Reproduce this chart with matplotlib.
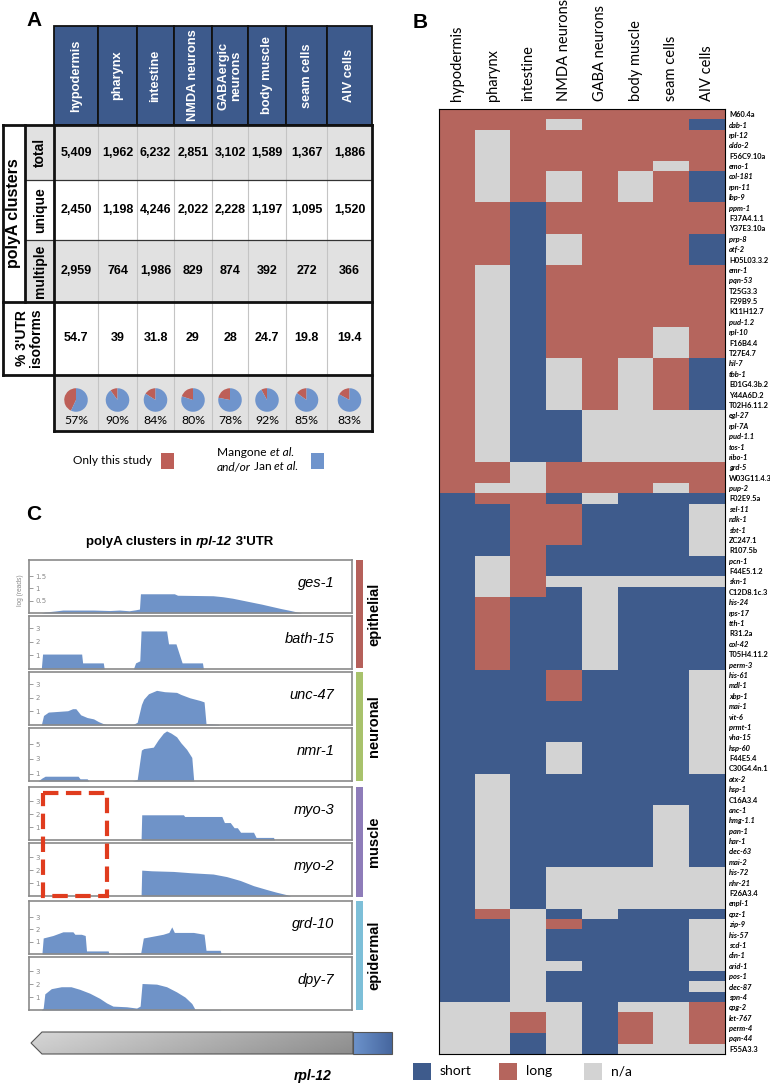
import matplotlib
matplotlib.use("Agg")
import matplotlib.pyplot as plt
import numpy as np
from matplotlib.colors import ListedColormap, LinearSegmentedColormap
from matplotlib.patches import Rectangle, Polygon

W, H = 770, 1087
CAL = "Lato"
HEL = "Liberation Sans"

# ---------------- panel A data
tissues_a = ["hypodermis", "pharynx", "intestine", "NMDA neurons", "GABAergic\nneurons",
             "body muscle", "seam cells", "AIV cells"]
total = [5409, 1962, 6232, 2851, 3102, 1589, 1367, 1886]
unique = [2450, 1198, 4246, 2022, 2228, 1197, 1095, 1520]
multiple = [2959, 764, 1986, 829, 874, 392, 272, 366]
utr_isoforms = [54.7, 39, 31.8, 29, 28, 24.7, 19.8, 19.4]
known_pct = [57, 90, 84, 80, 78, 92, 85, 83]

# ---------------- panel B data (S = short, L = long, N = n/a)
tissues_b = ["hypodermis", "pharynx", "intestine", "NMDA neurons", "GABA neurons",
             "body muscle", "seam cells", "AIV cells"]
genes = ["M60.4a", "dab-1", "rpl-12", "aldo-2", "F56C9.10a", "emo-1", "col-181", "rpn-11",
         "lbp-9", "ppm-1", "F37A4.1.1", "Y37E3.10a", "prp-8", "atf-2", "H05L03.3.2", "emr-1",
         "pqn-53", "T25G3.3", "F29B9.5", "K11H12.7", "pud-1.2", "rpl-10", "F16B4.4", "T27E4.7",
         "hil-7", "tbb-1", "E01G4.3b.2", "Y44A6D.2", "T02H6.11.2", "egl-27", "rpl-7A", "pud-1.1",
         "tos-1", "ribo-1", "grd-5", "W03G11.4.3", "pup-2", "F02E9.5a", "sel-11", "ndk-1",
         "sbt-1", "ZC247.1", "R107.5b", "pcn-1", "F44E5.1.2", "skn-1", "C12D8.1c.3", "his-24",
         "rps-17", "tth-1", "R31.2a", "col-42", "T05H4.11.2", "perm-3", "his-61", "mdl-1",
         "xbp-1", "mai-1", "vit-6", "prmt-1", "vha-15", "hsp-60", "F44E5.4", "C30G4.4n.1",
         "atx-2", "hsp-1", "C16A3.4", "anc-1", "hmg-1.1", "pan-1", "har-1", "clec-63", "mai-2",
         "his-72", "nhr-21", "F26A3.4", "enpl-1", "cpz-1", "zip-9", "his-57", "scd-1", "din-1",
         "arid-1", "pos-1", "clec-87", "spn-4", "cpg-2", "let-767", "perm-4", "pqn-44", "F55A3.3"]
calls = ["LLLLLLLL", "LLLNLLLS", "LNLLLLLL", "LNLLLLLL", "LNLLLLLL", "LNLLLLNL", "LNLNLNLS",
         "LNLNLNLS", "LNLNLNLS", "LLSLLLLL", "LLSLLLLL", "LLSLLLLL", "LLSNLLLS", "LLSNLLLS",
         "LLSNLLLS", "LNSLLLLL", "LNSLLLLL", "LNSLLLLL", "LNSLLLLL", "LNSLLLLL", "LNSLLLLL",
         "LNSLLLNL", "LNSLLLNL", "LNSLLLNL", "LNSNLNLS", "LNSNLNLS", "LNSNLNLS", "LNSNLNLS",
         "LNSNLNLS", "LNSSNNNN", "LNSSNNNN", "LNSSNNNN", "LNSSNNNN", "LNSSNNNN", "LLNLLLLL",
         "LLNLLLLL", "LNNLLLNL", "SLLSNSSS", "SSLLSSSN", "SSLLSSSN", "SSLLSSSN", "SSLLSSSN",
         "SSLSSSSN", "SNLSSSSS", "SNLSSSSS", "SNLNNNNN", "SNLSNSSS", "SLSSNSSS", "SLSSNSSS",
         "SLSSNSSS", "SLSSNSSS", "SLSSNSSS", "SLSSNSSS", "SLSSNSSS", "SSSLSSSN", "SSSLSSSN",
         "SSSLSSSN", "SSSSSSSN", "SSSSSSSN", "SSSSSSSN", "SSSSSSSN", "SSSNSSSN", "SSSNSSSN",
         "SSSNSSSN", "SNSSSSSS", "SNSSSSSS", "SNSSSSSS", "SNSSSSNS", "SNSSSSNS", "SNSSSSNS",
         "SNSSSSNS", "SNSSSSNS", "SNSSSSNS", "SNSNNNNN", "SNSNNNNN", "SNSNNNNN", "SNSNNNNN",
         "SLNSNSSS", "SSNLSSSN", "SSNSSSSN", "SSNSSSSN", "SSNSSSSN", "SSNNSSSN", "SSNSSSSS",
         "SSNSSSSN", "SSNSSSSS", "NNNNSNNL", "NNLNSLNL", "NNLNSLNL", "NNSNSLNL", "NNSNSNNN"]

# ---------------- panel C data (x in % of the 3'UTR window, y in log reads)
tracks = ["ges-1", "bath-15", "unc-47", "nmr-1", "myo-3", "myo-2", "grd-10", "dpy-7"]
ges1_x = [3.8, 5, 8, 10.5, 20, 25, 28, 31, 33, 34.2, 34.5, 45, 46, 57, 60, 63, 66, 69, 72, 75, 78, 81, 83, 84.5]
ges1_y = [0, 0.04, 0.08, 0.12, 0.12, 0.1, 0.12, 0.09, 0.13, 0.16, 0.78, 0.78, 0.72, 0.7, 0.66, 0.6,
          0.52, 0.44, 0.36, 0.27, 0.18, 0.1, 0.04, 0]
bath15_x = [3.8, 4.2, 16.3, 16.6, 23.0, 23.3, 32.3, 33.0, 34.3, 34.7, 42.6, 43.2, 45.5, 47.4, 53.7, 54.0]
bath15_y = [0, 1.1, 1.1, 0.45, 0.45, 0, 0, 0.45, 0.6, 2.8, 2.8, 1.85, 1.85, 0.45, 0.45, 0]
unc47_x = [3.8, 4.5, 6, 9, 12, 13.5, 14.5, 16, 18, 20, 21.5, 23, 24, 32.3, 33.5, 34.8, 35.5, 37, 39.5,
           42, 45.7, 47, 49.8, 53, 54.2, 54.8, 58.6, 59]
unc47_y = [0, 0.7, 0.95, 1.0, 1.05, 1.2, 1.2, 0.75, 0.55, 0.45, 0.25, 0.1, 0.05, 0.05, 0.2, 1.5, 1.9,
           2.3, 2.55, 2.45, 2.4, 2.25, 2.0, 1.8, 1.7, 0.1, 0.05, 0]
nmr1_x = [2.8, 4.0, 5.0, 15.2, 15.8, 18.0, 18.5, 32.0, 33.5, 34.8, 35.5, 38.5, 40, 41.6, 42.6, 44,
          45.7, 47, 48.8, 50.4, 51.0]
nmr1_y = [0, 0.4, 0.65, 0.65, 0.3, 0.3, 0, 0, 0.2, 4.2, 4.4, 4.6, 5.6, 6.5, 6.8, 6.5, 6.0, 5.2, 4.3, 3.2, 0]
myo3_x = [34.7, 34.9, 47.8, 48.2, 59.7, 60.5, 62.3, 63.5, 64.5, 65.5, 69.5, 70.3, 75.7, 76]
myo3_y = [0, 1.95, 1.95, 1.82, 1.82, 1.35, 1.35, 0.95, 0.95, 0.6, 0.6, 0.2, 0.2, 0]
myo2_x = [34.7, 34.9, 38, 44.7, 50, 57, 61.2, 65.4, 69.5, 73.6, 76.5, 79.8, 81]
myo2_y = [0, 2.0, 1.95, 1.9, 1.8, 1.7, 1.5, 1.2, 0.8, 0.5, 0.3, 0.1, 0]
grd10_x = [4.0, 4.4, 7.4, 10.5, 13.6, 14.2, 16.2, 17.4, 17.8, 24.5, 24.8, 34.6, 35.4, 39.5, 41.5,
           43.3, 44.2, 45.0, 50.9, 54.2, 54.8, 59.2, 59.5]
grd10_y = [0, 1.3, 1.5, 1.8, 1.8, 1.6, 1.6, 1.5, 0.25, 0.25, 0, 0.1, 1.3, 1.5, 1.6, 1.75, 2.2, 1.75,
           1.75, 1.6, 0.3, 0.3, 0]
dpy7_x = [3.8, 4.4, 4.9, 6.9, 10, 13, 15.7, 18.8, 21.9, 24, 26, 30.2, 33.3, 34.4, 35.0, 39.5, 42.6,
          45.7, 48.3, 50.4, 51.4, 59.2, 59.5]
dpy7_y = [0, 0.15, 1.25, 1.65, 1.8, 1.8, 1.6, 1.3, 0.9, 0.55, 0.3, 0.25, 0.15, 0.3, 2.05, 2.0, 1.8,
          1.4, 1.0, 0.5, 0.05, 0.03, 0]
track_x = [ges1_x, bath15_x, unc47_x, nmr1_x, myo3_x, myo2_x, grd10_x, dpy7_x]
track_y = [ges1_y, bath15_y, unc47_y, nmr1_y, myo3_y, myo2_y, grd10_y, dpy7_y]
track_ticks = [[0.5, 1, 1.5], [1, 2, 3], [1, 2, 3], [1, 3, 5], [1, 2, 3], [1, 2, 3], [1, 2, 3], [1, 2, 3]]
track_ymax = [2.15, 3.9, 3.9, 7.2, 4.1, 4.1, 4.3, 4.1]
groups = ["epithelial", "neuronal", "muscle", "epidermal"]

# colours
RED = "#b5655d"
BLUE = "#3e5b8c"
GREY = "#d3d3d3"
PIE_RED = "#bd5f58"
PIE_BLUE = "#6f94cc"
TRACK = "#6f93c8"
TAB_GREY = "#e1e1e1"
group_colors = ["#b5605a", "#a8c26c", "#8e7cb9", "#7dbfd8"]


def px_rect(x0, y0, x1, y1):
    return [x0 / W, 1 - y1 / H, (x1 - x0) / W, (y1 - y0) / H]


def pixel_axes(zorder=0):
    a = fig.add_axes([0, 0, 1, 1], zorder=zorder)
    a.set_xlim(0, W)
    a.set_ylim(H, 0)
    a.axis("off")
    a.patch.set_alpha(0)
    return a


fig = plt.figure(figsize=(W / 100, H / 100), dpi=100)
bg = pixel_axes()
renderer = fig.canvas.get_renderer()


def draw_runs(x, y, runs, size, weight="normal", family=CAL):
    for txt, style in runs:
        t = bg.text(x, y, txt, fontsize=size, fontstyle=style, fontweight=weight, family=family,
                    va="center", ha="left")
        x += t.get_window_extent(renderer=renderer).width


# ---------------- panel A: table
for lab, (x, y) in zip("ABC", [(34, 20), (420, 22), (34, 515)]):
    bg.text(x, y, lab, fontsize=15, fontweight="bold", family=HEL, ha="center", va="center")

col_x = [54, 98, 137, 174, 212, 248, 286, 327, 372]
centers = [(a + b) / 2 for a, b in zip(col_x[:-1], col_x[1:])]
hdr_top, hdr_bot = 26, 125
row_y = [125, 180, 240, 302, 375, 431]

for i, name in enumerate(tissues_a):
    bg.add_patch(Rectangle((col_x[i], hdr_top), col_x[i + 1] - col_x[i], hdr_bot - hdr_top,
                           facecolor="#3d5a8c", edgecolor="#111111", lw=1.3))
    bg.text(centers[i], (hdr_top + hdr_bot) / 2, name, rotation=90, color="white", fontsize=9.2,
            fontweight="bold", family=HEL, ha="center", va="center", linespacing=1.0)

# row backgrounds
for (y0, y1), shade in zip(zip(row_y[:-1], row_y[1:]), [TAB_GREY, "white", TAB_GREY, "white", TAB_GREY]):
    x0 = 54 if y0 == 375 else (3 if y0 == 302 else 25)
    bg.add_patch(Rectangle((x0, y0), 372 - x0, y1 - y0, facecolor=shade, edgecolor="none"))

for x in col_x[1:-1]:
    bg.plot([x, x], [125, 431], color="#c4c4c4", lw=0.8)
for y in [180, 240]:
    bg.plot([25, 372], [y, y], color="#333333", lw=0.9)
thick = dict(color="#111111", lw=2.0, solid_capstyle="projecting")
for y in [125, 302, 375]:
    bg.plot([3, 372], [y, y], **thick)
bg.plot([54, 372], [431, 431], **thick)
bg.plot([3, 3], [125, 375], **thick)
bg.plot([25, 25], [125, 302], **thick)
bg.plot([54, 54], [125, 431], **thick)
bg.plot([372, 372], [125, 431], **thick)

for vals, (y0, y1) in zip([total, unique, multiple], zip(row_y[:3], row_y[1:4])):
    for cx, v in zip(centers, vals):
        bg.text(cx, (y0 + y1) / 2, f"{v:,}", fontsize=9, fontweight="bold", family=HEL,
                ha="center", va="center")
for cx, v in zip(centers, utr_isoforms):
    bg.text(cx, 338, f"{v:g}", fontsize=9, fontweight="bold", family=HEL, ha="center", va="center")

for lab, (y0, y1) in zip(["total", "unique", "multiple"], zip(row_y[:3], row_y[1:4])):
    bg.text(40, (y0 + y1) / 2, lab, rotation=90, fontsize=10, fontweight="bold", family=HEL,
            ha="center", va="center")
bg.text(14, 213, "polyA clusters", rotation=90, fontsize=11.5, fontweight="bold", family=HEL,
        ha="center", va="center")
bg.text(29, 338, "% 3'UTR\nisoforms", rotation=90, fontsize=10, fontweight="bold", family=HEL,
        ha="center", va="center", linespacing=1.0)

# pies
for cx, p in zip(centers, known_pct):
    pax = fig.add_axes(px_rect(cx - 12, 388, cx + 12, 412))
    pax.pie([100 - p, p], colors=[PIE_RED, PIE_BLUE], startangle=90, counterclock=True,
            wedgeprops=dict(linewidth=0))
    pax.set_xlim(-1.02, 1.02)
    pax.set_ylim(-1.02, 1.02)
    pax.set_aspect("equal")
    bg.text(cx, 421, f"{p}%", fontsize=8.8, family=CAL, ha="center", va="center")

# legend A
bg.text(73, 460, "Only this study", fontsize=8.6, family=CAL, ha="left", va="center")
bg.add_patch(Rectangle((161, 453), 13, 16, facecolor=PIE_RED, edgecolor="none"))
draw_runs(217, 452, [("Mangone ", "normal"), ("et al.", "italic")], 8.6)
draw_runs(217, 467, [("and/or", "italic"), (" Jan ", "normal"), ("et al.", "italic")], 8.6)
bg.add_patch(Rectangle((311, 453), 13, 16, facecolor=PIE_BLUE, edgecolor="none"))

# ---------------- panel B: heatmap
code = {"S": 0, "L": 1, "N": 2}
mat = np.array([[code[c] for c in row] for row in calls])
hax = fig.add_axes(px_rect(439, 109, 725, 1054))
hax.imshow(mat, cmap=ListedColormap([BLUE, RED, GREY]), vmin=0, vmax=2, aspect="auto",
           interpolation="nearest")
hax.xaxis.tick_top()
hax.set_xticks(range(len(tissues_b)))
hax.set_xticklabels(tissues_b, rotation=90, fontsize=10.5, family=CAL)
hax.yaxis.tick_right()
hax.set_yticks(range(len(genes)))
hax.set_yticklabels(genes, fontsize=5.4, family=CAL, fontweight="bold")
for lab in hax.get_yticklabels():
    if lab.get_text()[0].islower():
        lab.set_fontstyle("italic")
hax.tick_params(length=0, pad=3)
hax.tick_params(axis="x", pad=6)
for s in hax.spines.values():
    s.set_linewidth(0.8)

# legend B
for x, c, lab in [(413, BLUE, "short"), (499, RED, "long"), (584, GREY, "n/a")]:
    bg.add_patch(Rectangle((x, 1063), 18, 17, facecolor=c, edgecolor="none"))
    bg.text(x + 27, 1071, lab, fontsize=10, family=CAL, ha="left", va="center")

# ---------------- panel C: tracks
draw_runs(86, 542, [("polyA clusters in ", "normal"), ("rpl-12", "italic"), (" 3'UTR", "normal")],
          9.5, weight="bold", family=HEL)

track_tops = [560, 616, 672, 728, 787, 843, 901, 957]
for i, name in enumerate(tracks):
    top = track_tops[i]
    ax = fig.add_axes(px_rect(29, top, 352, top + 53))
    ax.fill_between(track_x[i], track_y[i], 0, color=TRACK, linewidth=0)
    ax.set_xlim(0, 100)
    ax.set_ylim(0, track_ymax[i])
    ax.set_xticks([])
    ax.set_yticks(track_ticks[i])
    ax.set_yticklabels([f"{v:g}" for v in track_ticks[i]])
    ax.tick_params(axis="y", direction="in", length=3, width=0.6, colors="#8a8a8a",
                   labelsize=5, pad=-4.5)
    for lab in ax.get_yticklabels():
        lab.set_ha("left")
    for s in ax.spines.values():
        s.set_color("#8a8a8a")
        s.set_linewidth(1.2)
    ax.text(0.945, 0.57, name, transform=ax.transAxes, fontsize=10.5, fontstyle="italic",
            family=HEL, ha="right", va="center")

bg.text(21, 590, "log (reads)", rotation=90, fontsize=4.8, color="#8a8a8a", family=HEL,
        ha="center", va="center")

group_spans = [(560, 668), (672, 781), (787, 897), (901, 1010)]
for (y0, y1), c, g in zip(group_spans, group_colors, groups):
    bg.add_patch(Rectangle((356, y0), 7, y1 - y0, facecolor=c, edgecolor="none"))
    bg.text(374, (y0 + y1) / 2, g, rotation=90, fontsize=10.5, fontweight="bold", family=HEL,
            ha="center", va="center")

# dashed box drawn on top of the tracks
top_layer = pixel_axes(zorder=5)
top_layer.add_patch(Rectangle((43, 793), 64, 103, facecolor="none", edgecolor="#e03c1e", lw=3,
                              linestyle=(0, (3.7, 1.8))))

# gene model
arrow = Polygon([(42, 1032), (353, 1032), (353, 1054), (42, 1054), (31, 1043)], closed=True,
                facecolor="none", edgecolor="#555555", lw=0.8)
gx = np.linspace(0, 1, 200)
gy = np.linspace(0, 1, 20)
grad = 0.84 - 0.24 * gx[None, :] - 0.05 * gy[:, None]
im = bg.imshow(grad, cmap="gray", vmin=0, vmax=1, extent=(31, 353, 1054, 1032), aspect="auto",
               interpolation="bilinear")
bg.add_patch(arrow)
im.set_clip_path(arrow)
blue_cmap = LinearSegmentedColormap.from_list("utr", ["#6d93cc", "#46679f"])
bgrad = np.linspace(0, 1, 50)[None, :] * np.ones((10, 1))
bg.imshow(bgrad, cmap=blue_cmap, extent=(353, 392, 1054, 1032), aspect="auto", interpolation="bilinear")
bg.add_patch(Rectangle((353, 1032), 39, 22, facecolor="none", edgecolor="#555555", lw=0.8))
bg.set_xlim(0, W)
bg.set_ylim(H, 0)
bg.text(313, 1076, "rpl-12", fontsize=10, fontweight="bold", fontstyle="italic", family=HEL,
        ha="center", va="center")

fig.savefig("out.png", dpi=100)
